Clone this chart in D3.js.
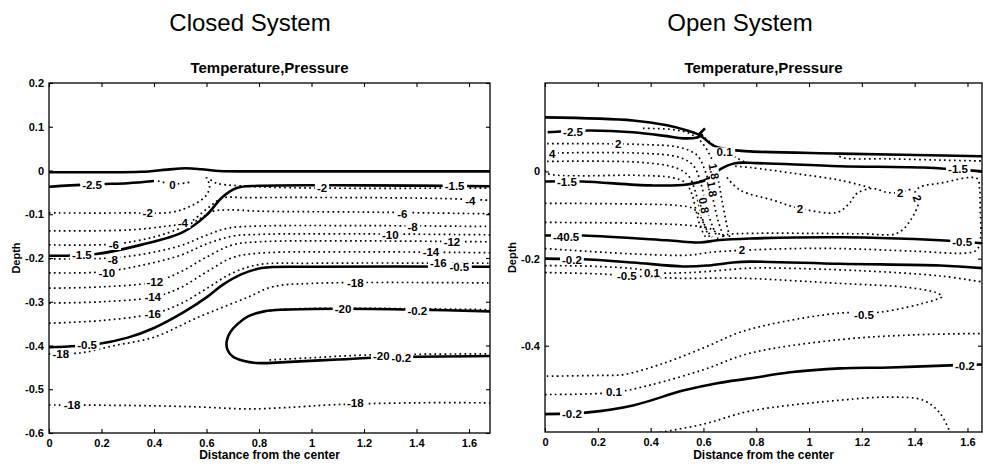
<!DOCTYPE html>
<html>
<head>
<meta charset="utf-8">
<script src="https://cdn.jsdelivr.net/npm/d3@7"></script>
<style>
  body { margin: 0; background: #fff; }
  svg { display: block; }
  text { font-family: "Liberation Sans", Arial, Helvetica, sans-serif; fill: #000; }
</style>
</head>
<body>
<svg id="chart" width="983" height="464"></svg>
<script>
// ---- axis ticks ----
const xTicks = [0, 0.2, 0.4, 0.6, 0.8, 1, 1.2, 1.4, 1.6];
const closedYTicks = [-0.6, -0.5, -0.4, -0.3, -0.2, -0.1, 0, 0.1, 0.2];
const openYTicks = [-0.4, -0.2, 0];

// ---- Closed system: pressure contours (solid), [distance, depth] ----
const closedIsobars = [
  { level: 0, pts: [[0,-0.004],[0.2,-0.004],[0.35,-0.003],[0.45,0.002],[0.52,0.005],[0.58,0.003],[0.65,-0.001],[0.75,-0.002],[1.0,-0.002],[1.68,-0.002]] },
  { level: -2.5, pts: [[0,-0.037],[0.08,-0.034],[0.2,-0.031],[0.3,-0.029],[0.4,-0.024]] },
  { level: -1.5, pts: [[0,-0.195],[0.18,-0.191],[0.35,-0.170],[0.51,-0.141],[0.6,-0.102],[0.66,-0.061],[0.715,-0.040],[0.8,-0.035],[1.2,-0.034],[1.68,-0.036]] },
  { level: -0.5, pts: [[0,-0.404],[0.18,-0.397],[0.3,-0.382],[0.4,-0.36],[0.51,-0.325],[0.6,-0.29],[0.66,-0.262],[0.73,-0.238],[0.81,-0.223],[1.0,-0.220],[1.68,-0.220]] },
  { level: -0.2, pts: [[1.68,-0.322],[1.4,-0.318],[1.1,-0.316],[0.9,-0.318],[0.82,-0.322],[0.76,-0.333],[0.72,-0.35],[0.69,-0.37],[0.677,-0.39],[0.68,-0.41],[0.7,-0.425],[0.74,-0.435],[0.79,-0.44],[0.9,-0.438],[1.1,-0.432],[1.3,-0.427],[1.68,-0.424]] }
];

// ---- Closed system: temperature contours (dotted) ----
const closedIsotherms = [
  { level: 0, pts: [[0.415,-0.024],[0.47,-0.031],[0.535,-0.027]] },
  { level: -2, pts: [[0,-0.097],[0.3,-0.097],[0.47,-0.095],[0.548,-0.079],[0.60,-0.056],[0.612,-0.033],[0.60,-0.017],[0.639,-0.029],[0.726,-0.035],[1.0,-0.040],[1.68,-0.040]] },
  { level: -4, pts: [[0,-0.138],[0.3,-0.136],[0.45,-0.127],[0.536,-0.118],[0.586,-0.095],[0.624,-0.077],[0.66,-0.063],[0.75,-0.062],[1.2,-0.062],[1.5,-0.064],[1.68,-0.068]] },
  { level: -6, pts: [[0,-0.170],[0.25,-0.168],[0.4,-0.152],[0.5,-0.132],[0.57,-0.112],[0.62,-0.094],[0.68,-0.090],[0.8,-0.093],[1.2,-0.095],[1.68,-0.099]] },
  { level: -8, pts: [[0,-0.202],[0.2,-0.201],[0.35,-0.192],[0.5,-0.172],[0.6,-0.148],[0.68,-0.132],[0.8,-0.127],[1.2,-0.126],[1.68,-0.128]] },
  { level: -10, pts: [[0,-0.234],[0.2,-0.232],[0.35,-0.217],[0.5,-0.194],[0.6,-0.168],[0.7,-0.150],[0.8,-0.146],[1.2,-0.145],[1.68,-0.147]] },
  { level: -12, pts: [[0,-0.269],[0.2,-0.266],[0.4,-0.255],[0.5,-0.232],[0.6,-0.198],[0.7,-0.170],[0.8,-0.163],[1.2,-0.161],[1.68,-0.163]] },
  { level: -14, pts: [[0,-0.303],[0.2,-0.300],[0.4,-0.289],[0.5,-0.268],[0.6,-0.232],[0.7,-0.199],[0.8,-0.189],[1.2,-0.186],[1.68,-0.188]] },
  { level: -16, pts: [[0,-0.349],[0.2,-0.343],[0.4,-0.327],[0.5,-0.305],[0.6,-0.270],[0.7,-0.234],[0.8,-0.215],[1.0,-0.212],[1.68,-0.212]] },
  { level: -18, pts: [[0,-0.419],[0.12,-0.417],[0.25,-0.40],[0.4,-0.381],[0.57,-0.335],[0.76,-0.289],[0.85,-0.266],[1.0,-0.258],[1.68,-0.257]] },
  { level: -20, pts: [[0.84,-0.319],[0.95,-0.316],[1.2,-0.315],[1.68,-0.318]] },
  { level: -20, pts: [[0.84,-0.433],[1.0,-0.428],[1.2,-0.422],[1.68,-0.419]] },
  { level: -18, pts: [[0,-0.536],[0.3,-0.537],[0.55,-0.540],[0.76,-0.545],[0.9,-0.542],[1.1,-0.535],[1.4,-0.531],[1.68,-0.531]] }
];

// ---- Closed system: inline contour labels [text, distance, depth] ----
const closedLabels = [
  ["-2.5", 0.164, -0.033], ["-1.5", 0.125, -0.193], ["-1.5", 1.545, -0.035],
  ["-0.5", 0.145, -0.399], ["-0.5", 1.563, -0.221], ["-0.2", 1.403, -0.321], ["-0.2", 1.342, -0.429],
  ["0", 0.47, -0.032], ["-2", 0.376, -0.097], ["-2", 1.04, -0.040],
  ["-4", 0.51, -0.12], ["-4", 1.605, -0.070], ["-6", 0.247, -0.170], ["-6", 1.346, -0.098],
  ["-8", 0.243, -0.205], ["-8", 1.385, -0.128], ["-10", 1.30, -0.147], ["-10", 0.22, -0.234],
  ["-12", 0.403, -0.255], ["-12", 1.535, -0.164], ["-14", 0.395, -0.289], ["-14", 1.455, -0.186],
  ["-16", 0.395, -0.327], ["-16", 1.483, -0.211], ["-18", 0.045, -0.419], ["-18", 1.167, -0.257],
  ["-20", 1.12, -0.317], ["-20", 1.266, -0.424], ["-18", 0.088, -0.536], ["-18", 1.167, -0.531]
];

// ---- Open system: pressure contours (solid) ----
const openIsobars = [
  { level: 0, pts: [[0,0.124],[0.333,0.117],[0.462,0.106],[0.538,0.094],[0.587,0.083],[0.636,0.060],[0.689,0.051],[0.777,0.046],[1.117,0.041],[1.659,0.035]] },
  { level: -2.5, pts: [[0.01,0.090],[0.17,0.094],[0.333,0.090],[0.462,0.081],[0.523,0.076],[0.576,0.078],[0.598,0.085]] },
  { level: -2.5, pts: [[0.58,0.083],[0.606,0.099]] },
  { level: -1.5, pts: [[0,-0.023],[0.14,-0.023],[0.398,-0.032],[0.538,-0.030],[0.614,-0.018],[0.663,0.005],[0.72,0.019],[0.803,0.019],[1.117,0.012],[1.432,0.009],[1.659,0.0]] },
  { level: -0.5, pts: [[0,-0.147],[0.144,-0.147],[0.462,-0.158],[0.587,-0.163],[0.652,-0.158],[0.777,-0.154],[1.117,-0.151],[1.496,-0.158],[1.659,-0.165]] },
  { level: -0.2, pts: [[0,-0.200],[0.163,-0.202],[0.333,-0.209],[0.523,-0.218],[0.614,-0.216],[0.712,-0.209],[0.777,-0.207],[1.117,-0.212],[1.496,-0.216],[1.659,-0.222]] },
  { level: -0.2, pts: [[0,-0.557],[0.163,-0.553],[0.333,-0.537],[0.523,-0.503],[0.652,-0.486],[0.777,-0.475],[0.928,-0.461],[1.117,-0.452],[1.307,-0.450],[1.534,-0.445],[1.659,-0.443]] }
];

// ---- Open system: temperature contours (dotted) ----
const openIsotherms = [
  { level: 1.8, pts: [[0.371,0.099],[0.485,0.096],[0.549,0.087],[0.587,0.071],[0.625,0.037],[0.652,-0.009],[0.670,-0.066],[0.689,-0.124],[0.70,-0.152]] },
  { level: 2, pts: [[0.008,0.064],[0.36,0.062],[0.511,0.055],[0.576,0.037],[0.606,0.002],[0.633,-0.055],[0.655,-0.112],[0.678,-0.152]] },
  { level: 4, pts: [[0.008,0.042],[0.36,0.042],[0.511,0.032],[0.561,0.014],[0.587,-0.02],[0.61,-0.078],[0.633,-0.124],[0.655,-0.154]] },
  { level: 0.8, pts: [[0.008,0.023],[0.36,0.021],[0.492,0.009],[0.542,-0.009],[0.568,-0.043],[0.587,-0.089],[0.61,-0.131],[0.633,-0.151]] },
  { level: 0.8, pts: [[0,0.003],[0.01,-0.005],[0.36,-0.009],[0.48,-0.014],[0.53,-0.025],[0.555,-0.05],[0.572,-0.09],[0.59,-0.13],[0.61,-0.152]] },
  { level: 0.5, pts: [[0,-0.073],[0.36,-0.075],[0.5,-0.078],[0.56,-0.085],[0.59,-0.105],[0.61,-0.135],[0.625,-0.152]] },
  { level: 0.2, pts: [[0,-0.117],[0.36,-0.119],[0.55,-0.124],[0.62,-0.13],[0.655,-0.142],[0.68,-0.148]] },
  { level: 2, pts: [[0,-0.177],[0.36,-0.19],[0.55,-0.192],[0.62,-0.186],[0.746,-0.181],[0.95,-0.177],[1.117,-0.177],[1.4,-0.183],[1.60,-0.187],[1.635,-0.18],[1.648,-0.16],[1.648,-0.08],[1.646,-0.04],[1.636,-0.016],[1.496,-0.027],[1.42,-0.036],[1.40,-0.05],[1.415,-0.068],[1.383,-0.113],[1.333,-0.142],[1.2,-0.143],[1.0,-0.142],[0.8,-0.142],[0.69,-0.145],[0.67,-0.150]] },
  { level: 2, pts: [[0.689,-0.014],[0.739,-0.043],[0.864,-0.066],[0.966,-0.085],[1.106,-0.094],[1.15,-0.075],[1.182,-0.050],[1.242,-0.039],[1.295,-0.048],[1.345,-0.048],[1.394,-0.039]] },
  { level: 2, pts: [[0.72,0.012],[0.777,0.009],[0.95,-0.005],[1.117,-0.020],[1.242,-0.039]] },
  { level: 0.1, pts: [[0.59,0.085],[0.62,0.07],[0.65,0.055],[0.69,0.042],[0.73,0.03],[0.76,0.02]] },
  { level: 0.1, pts: [[1.10,0.042],[1.125,0.032],[1.3,0.029],[1.5,0.026],[1.659,0.024]] },
  { level: 0.1, pts: [[0,-0.216],[0.2,-0.218],[0.36,-0.225],[0.405,-0.232],[0.55,-0.232],[0.777,-0.222],[0.9,-0.222],[1.2,-0.228],[1.5,-0.240],[1.659,-0.254]] },
  { level: -0.5, pts: [[0,-0.232],[0.2,-0.235],[0.31,-0.239],[0.5,-0.245],[0.739,-0.245],[1.117,-0.257],[1.371,-0.266],[1.48,-0.278],[1.504,-0.287],[1.47,-0.296],[1.269,-0.323],[1.117,-0.325],[0.9,-0.345],[0.739,-0.369],[0.6,-0.405],[0.45,-0.44],[0.3,-0.466],[0.208,-0.468],[0,-0.470]] },
  { level: 0.1, pts: [[0,-0.512],[0.261,-0.507],[0.4,-0.49],[0.6,-0.455],[0.777,-0.417],[1.117,-0.386],[1.4,-0.375],[1.659,-0.372]] },
  { level: 0.1, pts: [[0.436,-0.599],[0.6,-0.58],[0.777,-0.550],[1.117,-0.525],[1.307,-0.518],[1.432,-0.525],[1.496,-0.555],[1.534,-0.599]] }
];

// ---- Open system: inline contour labels [text, distance, depth, rotation] ----
const openLabels = [
  ["-2.5", 0.106, 0.092], ["-1.5", 0.083, -0.023], ["-1.5", 1.564, 0.005],
  ["-40.5", 0.08, -0.149], ["-0.5", 1.58, -0.162], ["-0.2", 0.102, -0.202],
  ["-0.2", 0.102, -0.557], ["-0.2", 1.59, -0.447],
  ["2", 0.277, 0.064], ["4", 0.027, 0.041], ["0.1", 0.68, 0.044],
  ["2", 0.966, -0.085], ["2", 1.345, -0.048], ["2", 1.41, -0.062, 70], ["2", 0.746, -0.181],
  ["-0.5", 0.31, -0.239], ["0.1", 0.405, -0.232], ["-0.5", 1.208, -0.330], ["0.1", 0.261, -0.507],
  ["0.8", 0.602, -0.078, 80], ["1.8", 0.633, -0.040, 80], ["1.8", 0.64, 0.0, 80]
];

const panels = [
  { title: "Closed System", titleX: 250, box: { l: 49, r: 490, t: 83, b: 433 },
    xMax: 1.68, yMin: -0.6, yMax: 0.2, yTicks: closedYTicks,
    isobars: closedIsobars, isotherms: closedIsotherms, labels: closedLabels },
  { title: "Open System", titleX: 740, box: { l: 545, r: 982, t: 83, b: 432 },
    xMax: 1.655, yMin: -0.598, yMax: 0.203, yTicks: openYTicks,
    isobars: openIsobars, isotherms: openIsotherms, labels: openLabels }
];

const svg = d3.select("#chart");
const tickFmt = d => (d === 0 ? "0" : String(+d.toFixed(2)));
const FONT = '"Liberation Sans", Arial, Helvetica, sans-serif';

panels.forEach((p, i) => {
  const b = p.box;
  const x = d3.scaleLinear().domain([0, p.xMax]).range([b.l, b.r]);
  const y = d3.scaleLinear().domain([p.yMin, p.yMax]).range([b.b, b.t]);
  const line = d3.line().x(d => x(d[0])).y(d => y(d[1])).curve(d3.curveCatmullRom.alpha(0.5));

  // titles
  svg.append("text").attr("x", p.titleX).attr("y", 31).attr("text-anchor", "middle")
    .style("font-size", "24px").text(p.title);
  svg.append("text").attr("x", (b.l + b.r) / 2).attr("y", 73).attr("text-anchor", "middle")
    .style("font-size", "15px").style("font-weight", "bold").text("Temperature,Pressure");

  const clipId = "clip" + i;
  svg.append("clipPath").attr("id", clipId).append("rect")
    .attr("x", b.l).attr("y", b.t).attr("width", b.r - b.l).attr("height", b.b - b.t);

  const plot = svg.append("g").attr("clip-path", `url(#${clipId})`);

  // temperature contours, dotted
  plot.append("g").selectAll("path").data(p.isotherms).join("path")
    .attr("d", d => line(d.pts))
    .attr("fill", "none").attr("stroke", "#000")
    .attr("stroke-width", 1.7).attr("stroke-dasharray", "1.7 3.3");

  // pressure contours, solid
  plot.append("g").selectAll("path").data(p.isobars).join("path")
    .attr("d", d => line(d.pts))
    .attr("fill", "none").attr("stroke", "#000")
    .attr("stroke-width", 2.6).attr("stroke-linejoin", "round");

  // inline labels with a white gap behind them
  const lab = plot.append("g").selectAll("g").data(p.labels).join("g")
    .attr("transform", d => `translate(${x(d[1])},${y(d[2])}) rotate(${d[3] || 0})`);
  const txt = lab.append("text")
    .attr("text-anchor", "middle").attr("dy", "0.36em")
    .style("font-size", "11.5px").style("font-weight", "bold")
    .text(d => d[0]);
  txt.each(function () {
    const bb = this.getBBox();
    d3.select(this.parentNode).insert("rect", "text")
      .attr("x", bb.x - 2).attr("y", bb.y + 1).attr("width", bb.width + 4).attr("height", bb.height - 2)
      .attr("fill", "#fff");
  });

  // frame
  svg.append("rect").attr("x", b.l).attr("y", b.t).attr("width", b.r - b.l).attr("height", b.b - b.t)
    .attr("fill", "none").attr("stroke", "#000").attr("stroke-width", 1.3);

  // axes with inward ticks
  const styleAxis = g => {
    g.select(".domain").remove();
    g.selectAll(".tick line").attr("stroke", "#000").attr("stroke-width", 1.1);
    g.selectAll("text").style("font-family", FONT).style("font-size", "11px").style("font-weight", "bold");
  };
  svg.append("g").attr("transform", `translate(0,${b.b})`)
    .call(d3.axisBottom(x).tickValues(xTicks).tickSize(-4).tickPadding(6).tickFormat(tickFmt)).call(styleAxis);
  svg.append("g").attr("transform", `translate(0,${b.t})`)
    .call(d3.axisTop(x).tickValues(xTicks).tickSize(-4).tickFormat("")).call(styleAxis);
  svg.append("g").attr("transform", `translate(${b.l},0)`)
    .call(d3.axisLeft(y).tickValues(p.yTicks).tickSize(-4).tickPadding(5).tickFormat(tickFmt)).call(styleAxis);
  svg.append("g").attr("transform", `translate(${b.r},0)`)
    .call(d3.axisRight(y).tickValues(p.yTicks).tickSize(-4).tickFormat("")).call(styleAxis);

  // axis titles
  svg.append("text").attr("transform", `translate(${b.l - 29},${(b.t + b.b) / 2}) rotate(-90)`)
    .attr("text-anchor", "middle").style("font-size", "11px").style("font-weight", "bold").text("Depth");
  svg.append("text").attr("x", (b.l + b.r) / 2).attr("y", 459).attr("text-anchor", "middle")
    .style("font-size", "12px").style("font-weight", "bold").text("Distance from the center");
});
</script>
</body>
</html>
